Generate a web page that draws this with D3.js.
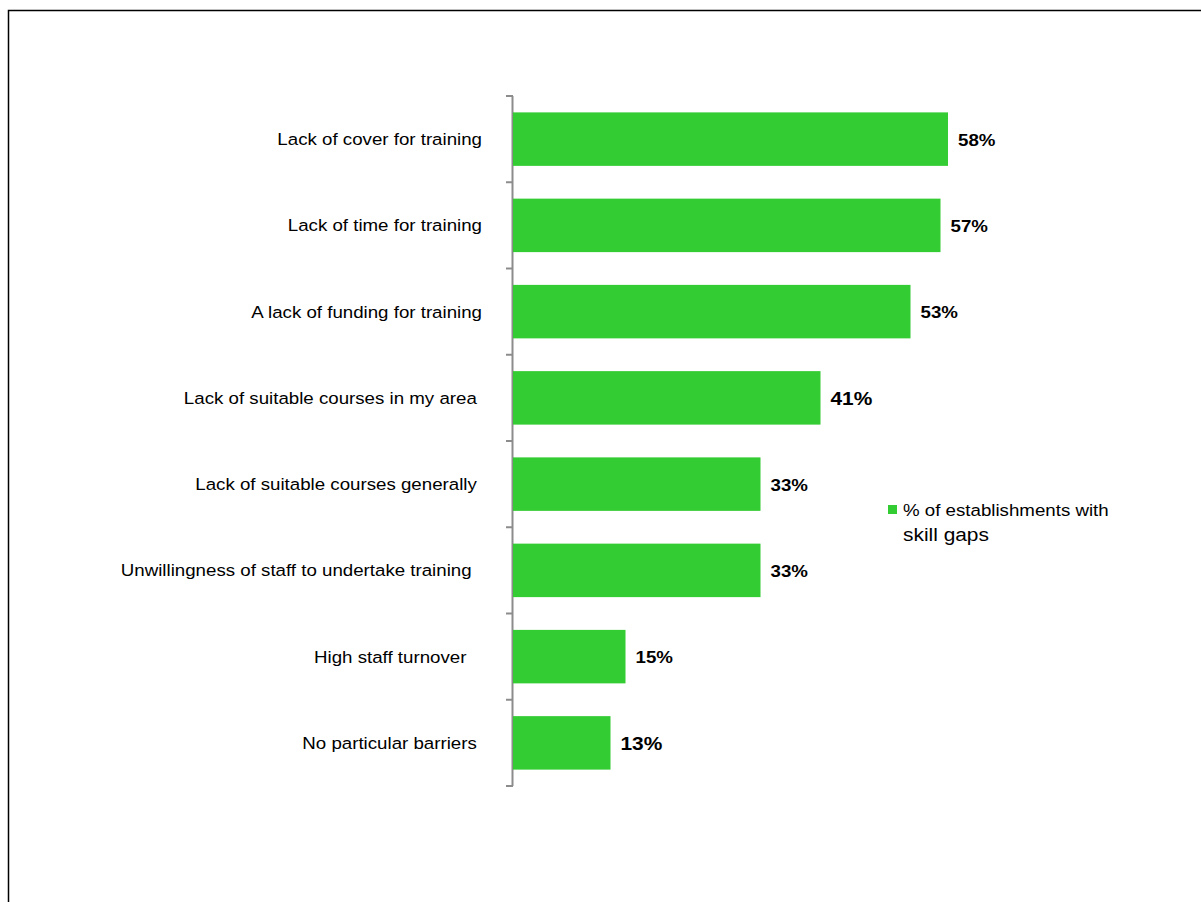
<!DOCTYPE html>
<html>
<head>
<meta charset="utf-8">
<script src="https://cdn.jsdelivr.net/npm/d3@7"></script>
<style>
  html, body { margin: 0; padding: 0; background: #fff; }
  svg { display: block; font-family: "Liberation Sans", Arial, sans-serif; }
  text { white-space: pre; }
</style>
</head>
<body>
<svg id="chart" width="1201" height="902"></svg>
<script>
// Barriers to training among establishments with skill gaps
const categories = [
  "Lack of cover for training",
  "Lack of time for training",
  "A lack of funding for training",
  "Lack of suitable courses in my area ",
  "Lack of suitable courses generally ",
  "Unwillingness of staff to undertake training  ",
  "High staff turnover   ",
  "No particular barriers "
];
const values = [58, 57, 53, 41, 33, 33, 15, 13];
const valueLabels = ["58%", "57%", "53%", "41%", "33%", "33%", "15%", "13%"];
const labelSizes = [17, 17, 17, 19, 17, 17, 17, 19];
const seriesName = ["% of establishments with", "skill gaps"];

const green = "#33CC33";
const stretch = 1.1; // text is drawn slightly wide
const svg = d3.select("#chart");

// outer frame
svg.append("path")
  .attr("d", "M8.5,902 V10.5 H1201")
  .attr("fill", "none")
  .attr("stroke", "#000")
  .attr("stroke-width", 1.5);

const y = d3.scaleBand()
  .domain(categories)
  .range([96, 786])
  .paddingInner(0.38)
  .paddingOuter(0.19);

const x = d3.scaleLinear()
  .domain([0, 80])
  .range([513, 1113]);

const place = (px, py) => `translate(${px},${py}) scale(${stretch},1)`;

// category axis with ticks between bands
const bandEdges = d3.range(categories.length + 1).map(i => 96 + i * (786 - 96) / categories.length);
const axis = svg.append("g");
axis.append("line")
  .attr("x1", 512.5).attr("x2", 512.5)
  .attr("y1", 96).attr("y2", 786)
  .attr("stroke", "#8c8c8c").attr("stroke-width", 2);
axis.selectAll("line.tick")
  .data(bandEdges)
  .join("line")
  .attr("class", "tick")
  .attr("x1", 506).attr("x2", 513)
  .attr("y1", d => d).attr("y2", d => d)
  .attr("stroke", "#8c8c8c").attr("stroke-width", 2);

// bars
svg.selectAll("rect.bar")
  .data(values)
  .join("rect")
  .attr("class", "bar")
  .attr("x", x(0))
  .attr("y", (d, i) => y(categories[i]))
  .attr("width", d => x(d) - x(0))
  .attr("height", y.bandwidth())
  .attr("fill", green);

// category labels
svg.selectAll("text.cat")
  .data(categories)
  .join("text")
  .attr("class", "cat")
  .attr("transform", d => place(482, y(d) + y.bandwidth() / 2))
  .attr("dy", "0.35em")
  .attr("text-anchor", "end")
  .attr("font-size", 17)
  .attr("fill", "#000")
  .text(d => d);

// value labels
svg.selectAll("text.val")
  .data(values)
  .join("text")
  .attr("class", "val")
  .attr("transform", (d, i) => place(x(d) + 10, y(categories[i]) + y.bandwidth() / 2))
  .attr("dy", "0.38em")
  .attr("font-size", (d, i) => labelSizes[i])
  .attr("font-weight", "bold")
  .attr("fill", "#000")
  .text((d, i) => valueLabels[i]);

// legend
const legend = svg.append("g");
legend.append("rect")
  .attr("x", 888).attr("y", 505)
  .attr("width", 9).attr("height", 9)
  .attr("fill", green);
legend.append("text")
  .attr("transform", place(903, 516))
  .attr("font-size", 17)
  .text(seriesName[0]);
legend.append("text")
  .attr("transform", place(903, 541))
  .attr("font-size", 19)
  .text(seriesName[1]);
</script>
</body>
</html>
